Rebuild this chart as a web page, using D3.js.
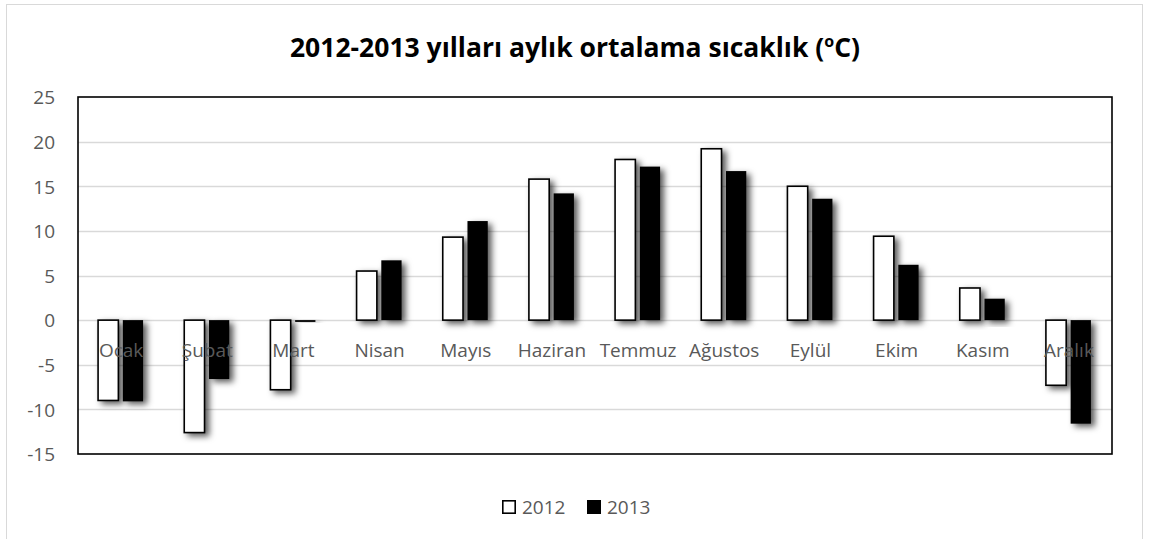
<!DOCTYPE html>
<html>
<head>
<meta charset="utf-8">
<script src="https://cdn.jsdelivr.net/npm/d3@7"></script>
<style>
  html, body { margin: 0; padding: 0; background: #ffffff; }
  svg { display: block; }
</style>
</head>
<body>
<svg id="chart" width="1150" height="539"></svg>
<script>
// Monthly mean temperatures (°C)
const months = ["Ocak", "Şubat", "Mart", "Nisan", "Mayıs", "Haziran", "Temmuz", "Ağustos", "Eylül", "Ekim", "Kasım", "Aralık"];
const series = ["2012", "2013"];
const values2012 = [-9.0, -12.6, -7.8, 5.5, 9.3, 15.8, 18.0, 19.2, 15.0, 9.4, 3.6, -7.3];
const values2013 = [-9.1, -6.6, -0.2, 6.7, 11.1, 14.2, 17.2, 16.7, 13.6, 6.2, 2.4, -11.6];
const yTicks = [25, 20, 15, 10, 5, 0, -5, -10, -15];

const plot = { left: 78, right: 1112, top: 97, bottom: 454 };
const textFont = "'Open Sans', 'Noto Sans', sans-serif";
const grey = "#595959";

const svg = d3.select("#chart");

// Soft drop shadow for bars
const defs = svg.append("defs");
const shadow = defs.append("filter").attr("id", "barShadow")
  .attr("x", "-60%").attr("y", "-30%").attr("width", "220%").attr("height", "160%");
shadow.append("feDropShadow")
  .attr("dx", 4).attr("dy", 3).attr("stdDeviation", 3.2)
  .attr("flood-color", "#000").attr("flood-opacity", 0.65);

// Chart area frame
svg.append("rect")
  .attr("x", 6.5).attr("y", 4.5).attr("width", 1136).attr("height", 560)
  .attr("fill", "#fff").attr("stroke", "#d9d9d9").attr("stroke-width", 1);

// Title
const title = svg.append("text")
  .attr("x", 575).attr("y", 57)
  .attr("text-anchor", "middle")
  .attr("font-family", textFont)
  .attr("font-weight", "bold")
  .attr("font-size", 26.5)
  .attr("fill", "#000");
title.append("tspan").text("2012-2013 yılları aylık ortalama sıcaklık (");
title.append("tspan").attr("font-size", 16).attr("dy", -10).text("o");
title.append("tspan").attr("dy", 10).text("C)");

// Scales
const x0 = d3.scaleBand().domain(months).range([plot.left, plot.right]).padding(0);
const y = d3.scaleLinear().domain([-15, 25]).range([plot.bottom, plot.top]);
const groupW = 45;
const x1 = d3.scaleBand().domain(series).range([0, groupW]).paddingInner(0.18);

// Gridlines
svg.append("g")
  .selectAll("line")
  .data(yTicks.filter(t => t !== 25 && t !== -15))
  .join("line")
  .attr("x1", plot.left).attr("x2", plot.right)
  .attr("y1", d => Math.round(y(d)) + 0.5).attr("y2", d => Math.round(y(d)) + 0.5)
  .attr("stroke", "#d9d9d9").attr("stroke-width", 1.4);

// Y axis labels (plain hyphen for negatives)
const yAxis = d3.axisLeft(y).tickValues(yTicks).tickSize(0).tickPadding(0).tickFormat(d => String(d));
const yg = svg.append("g").attr("transform", `translate(${plot.left - 23},0)`).call(yAxis);
yg.select(".domain").remove();
yg.selectAll("text")
  .attr("font-family", textFont).attr("font-size", 19).attr("fill", grey)
  .attr("dy", "0.36em");

// Bars
const rows = months.map((m, i) => ({ month: m, vals: [
  { key: "2012", v: values2012[i] },
  { key: "2013", v: values2013[i] }
]}));

const groups = svg.append("g").selectAll("g")
  .data(rows).join("g")
  .attr("transform", d => `translate(${x0(d.month) + x0.bandwidth() / 2 - groupW / 2 - 0.5},0)`);

groups.selectAll("rect")
  .data(d => d.vals).join("rect")
  .attr("x", d => x1(d.key))
  .attr("width", x1.bandwidth())
  .attr("y", d => y(Math.max(0, d.v)))
  .attr("height", d => Math.max(1, Math.abs(y(d.v) - y(0))))
  .attr("fill", d => d.key === "2012" ? "#ffffff" : "#000000")
  .attr("stroke", d => d.key === "2012" ? "#000" : "none")
  .attr("stroke-width", 1.6)
  .attr("filter", "url(#barShadow)");

// Plot frame
svg.append("rect")
  .attr("x", plot.left).attr("y", plot.top)
  .attr("width", plot.right - plot.left).attr("height", plot.bottom - plot.top)
  .attr("fill", "none").attr("stroke", "#000").attr("stroke-width", 1.6);

// Category labels just below the zero line
const xAxis = d3.axisBottom(x0).tickSize(0).tickPadding(0);
const xg = svg.append("g").attr("transform", `translate(0,${y(0)})`).call(xAxis);
xg.select(".domain").remove();
xg.selectAll("text")
  .attr("font-family", textFont).attr("font-size", 19).attr("fill", grey)
  .attr("y", 37).attr("dy", 0);

// Legend
const legend = svg.append("g").attr("transform", "translate(502,500)");
series.forEach((s, i) => {
  const g = legend.append("g").attr("transform", `translate(${i * 85},0)`);
  g.append("rect").attr("x", 0.8).attr("y", 0.8).attr("width", 12.4).attr("height", 12.4)
    .attr("fill", s === "2012" ? "#fff" : "#000")
    .attr("stroke", "#000").attr("stroke-width", 1.6);
  g.append("text").attr("x", 20).attr("y", 7).attr("dy", "0.36em")
    .attr("font-family", textFont).attr("font-size", 19).attr("fill", grey).text(s);
});
</script>
</body>
</html>
